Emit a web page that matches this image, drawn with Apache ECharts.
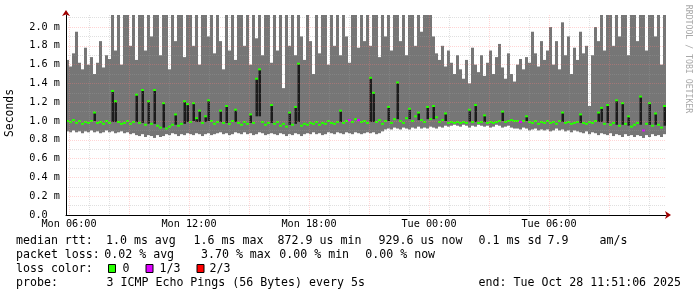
<!DOCTYPE html>
<html><head><meta charset="utf-8">
<script src="https://cdn.jsdelivr.net/npm/echarts@6/dist/echarts.min.js"></script>
<style>html,body{margin:0;padding:0;background:#fff;}#c{width:697px;height:297px;}</style>
</head><body><div id="c"></div>
<script>
// ---- time frame (hours since Mon 00:00) ----
const startHour = 5.85;   // Mon 05:51:06
const endHour = 35.85;    // Tue 11:51:06
const slotHours = 0.15;   // 9 minutes per slot

// ---- round trip times in ms, one value per slot ----
const rttMin = [
0.89,0.88,0.90,0.88,0.89,0.87,0.89,0.88,0.90,0.88,
0.89,0.87,0.88,0.90,0.88,0.89,0.87,0.88,0.89,0.87,
0.88,0.86,0.87,0.85,0.84,0.86,0.83,0.85,0.84,0.82,
0.85,0.83,0.84,0.86,0.85,0.87,0.86,0.84,0.86,0.85,
0.87,0.86,0.85,0.87,0.86,0.84,0.86,0.87,0.85,0.86,
0.87,0.88,0.86,0.87,0.85,0.86,0.88,0.87,0.86,0.88,
0.86,0.87,0.85,0.86,0.88,0.87,0.85,0.86,0.87,0.86,
0.85,0.87,0.86,0.84,0.86,0.85,0.87,0.86,0.84,0.86,
0.87,0.86,0.88,0.86,0.87,0.85,0.86,0.88,0.87,0.86,
0.88,0.87,0.86,0.88,0.87,0.86,0.88,0.87,0.86,0.87,
0.88,0.87,0.88,0.86,0.87,0.89,0.91,0.92,0.91,0.93,
0.92,0.91,0.93,0.92,0.91,0.93,0.92,0.94,0.92,0.93,
0.92,0.94,0.93,0.92,0.94,0.93,0.95,0.94,0.95,0.96,
0.95,0.94,0.96,0.95,0.93,0.95,0.94,0.96,0.95,0.94,
0.95,0.93,0.94,0.96,0.95,0.93,0.94,0.95,0.93,0.92,
0.92,0.91,0.93,0.92,0.90,0.91,0.92,0.90,0.91,0.90,
0.91,0.89,0.90,0.92,0.90,0.91,0.89,0.90,0.88,0.90,
0.89,0.88,0.87,0.89,0.86,0.88,0.87,0.85,0.87,0.86,
0.85,0.87,0.84,0.86,0.85,0.83,0.86,0.84,0.85,0.83,
0.85,0.84,0.82,0.85,0.83,0.86,0.84,0.85,0.83,0.86];

const rttMedian = [
1.00,0.99,1.01,0.98,1.00,0.97,0.99,0.98,1.00,1.09,
0.98,0.99,0.97,1.00,0.98,1.32,1.21,0.99,0.97,0.98,
1.00,0.97,0.99,1.28,0.98,1.33,0.96,1.21,0.97,1.33,
0.95,0.93,1.19,0.92,0.94,0.96,1.07,0.95,0.97,1.21,
1.18,0.99,1.19,1.03,1.11,0.98,1.05,1.22,1.00,0.97,
0.99,1.11,0.98,1.16,0.97,1.00,1.12,0.98,0.96,0.99,
0.97,1.07,0.98,1.45,1.55,0.99,0.96,0.98,1.17,0.97,
0.99,0.95,0.97,0.94,1.09,0.96,1.15,1.61,0.95,0.97,
0.96,0.98,0.97,0.99,0.96,0.98,0.97,1.00,0.98,0.97,
0.99,1.11,0.98,1.00,1.01,0.99,1.02,1.01,0.99,1.00,
0.98,1.46,1.30,0.99,1.01,0.97,1.00,1.15,0.98,1.02,
1.41,1.00,0.98,1.03,1.13,1.00,1.05,1.09,1.01,0.99,
1.15,1.02,1.16,1.04,0.99,1.01,1.08,0.98,0.99,0.98,
0.99,0.98,0.99,0.98,1.12,0.99,1.17,0.98,0.99,1.06,
0.98,0.99,0.98,0.99,1.00,1.10,0.99,1.00,1.01,1.00,
1.00,0.99,1.00,1.05,0.99,0.98,1.00,0.97,0.99,0.98,
1.00,0.98,0.99,0.97,1.00,1.09,0.98,0.99,0.97,0.98,
0.99,1.07,0.98,0.97,0.99,0.98,1.00,1.09,1.14,0.97,
1.17,0.96,0.98,1.22,0.95,1.19,0.97,1.05,0.94,0.96,
0.98,1.26,0.90,0.97,1.19,0.95,1.08,0.96,0.93,1.16];

const rttMax = [
1.65,1.58,1.72,1.95,1.62,1.55,1.78,1.60,1.68,1.50,
1.62,1.85,1.57,1.70,1.66,2.14,1.75,2.14,1.60,2.14,
2.14,1.80,2.14,1.65,2.14,2.14,1.75,2.14,1.90,2.14,
2.14,1.70,2.14,2.14,1.55,2.14,1.85,2.14,2.14,1.68,
2.14,2.14,1.80,2.14,1.60,2.14,2.14,1.90,2.14,1.72,
2.14,1.85,1.55,2.14,1.75,2.14,1.65,2.14,2.14,1.80,
2.14,1.60,2.14,1.88,2.14,1.70,2.14,2.14,1.62,2.14,
1.75,2.14,1.35,2.14,1.80,2.14,1.70,2.14,1.90,1.65,
2.14,1.85,1.50,2.14,1.72,2.14,2.14,1.60,2.14,1.80,
2.14,1.70,2.14,1.90,1.62,2.14,2.14,1.78,2.14,1.85,
2.14,1.80,2.14,2.14,1.68,2.14,1.90,2.14,1.75,2.14,
2.14,1.85,2.14,1.70,2.14,2.14,1.80,2.14,1.95,2.14,
2.14,2.14,1.90,1.72,1.65,1.80,1.58,1.75,1.62,1.50,
1.70,1.55,1.45,1.65,1.40,1.78,1.60,1.52,1.70,1.48,
1.62,1.75,1.50,1.68,1.82,1.57,1.45,1.72,1.50,1.42,
1.60,1.66,1.55,1.68,1.62,1.95,1.72,1.58,1.85,1.65,
1.75,2.00,1.60,1.85,1.55,2.05,1.70,1.90,1.50,1.78,
1.65,1.95,1.72,1.80,1.16,1.70,2.00,1.85,2.14,1.75,
2.14,2.14,1.80,2.14,1.90,2.14,2.14,1.70,2.14,2.14,
1.85,2.14,2.14,1.75,2.14,2.14,1.90,2.14,1.60,2.14];

// slots where the median jumps: dark bar from darkLow up to the median
const darkSlots = [9,15,16,23,25,27,29,32,36,39,40,42,43,44,46,47,51,53,56,61,63,64,68,74,76,77,91,
  101,102,107,110,114,117,120,122,126,134,136,139,145,153,165,171,177,178,180,183,185,187,191,194,196,199];
const darkLow = [1.00,0.99,0.99,0.99,0.98,0.97,0.97,0.93,0.96,0.97,0.99,1.00,0.99,0.99,0.99,1.00,0.99,0.98,0.99,0.98,1.05,1.05,0.98,0.96,0.97,0.99,0.99,
  0.99,0.99,1.00,1.02,1.02,1.01,1.02,1.02,1.00,0.99,0.99,0.99,1.00,1.00,0.99,0.98,0.99,0.99,0.98,0.96,0.96,0.95,0.96,0.96,0.96,0.95];
// slots with 1/3 packet loss
const lossSlots = [94, 97, 151, 192];

// ---- axes ----
const yMax = 2.128;
const yTickValues = [0,0.2,0.4,0.6,0.8,1.0,1.2,1.4,1.6,1.8,2.0];
const yTickLabels = ['0.0  ','0.2 m','0.4 m','0.6 m','0.8 m','1.0 m','1.2 m','1.4 m','1.6 m','1.8 m','2.0 m'];
const xTickHours = [6, 12, 18, 24, 30];
const xTickLabels = ['Mon 06:00','Mon 12:00','Mon 18:00','Tue 00:00','Tue 06:00'];

// ---- legend texts ----
const rttStats = ['median rtt:','1.0 ms avg','1.6 ms max','872.9 us min','929.6 us now','0.1 ms sd','7.9','am/s'];
const lossStats = ['packet loss:','0.02 % avg','3.70 % max','0.00 % min','0.00 % now'];
const lossLegend = ['loss color:','0','1/3','2/3'];
const probeText = ['probe:','3 ICMP Echo Pings (56 Bytes) every 5s','end: Tue Oct 28 11:51:06 2025'];
const yAxisTitle = 'Seconds';
const watermark = 'RRDTOOL / TOBI OETIKER';

// ---- styles ----
const FONT = '"DejaVu Sans Mono", monospace';
const smokeColor = '#767676';
const darkColor = '#1c1c1c';
const lossColors = ['#26ff00', '#dd00ff', '#ff0000'];
const majorGrid = 'rgba(255,120,120,0.32)';
const minorGrid = 'rgba(160,160,160,0.32)';

const darkFull = rttMin.map(() => null);
darkSlots.forEach((s, k) => { darkFull[s] = darkLow[k]; });
const table = rttMin.map((v, i) => [
  startHour + i * slotHours, v, rttMedian[i], darkFull[i], rttMax[i], lossSlots.indexOf(i) >= 0 ? 1 : 0
]);

function renderSlot(params, api) {
  const t = api.value(0);
  const lo = api.value(1), med = api.value(2), dlo = api.value(3);
  const hi = Math.min(api.value(4), yMax);
  const loss = api.value(5);
  const a = api.coord([t, hi]);
  const b = api.coord([t + slotHours, lo]);
  const x = a[0], w = b[0] - a[0];
  const kids = [{type: 'rect', shape: {x: x, y: a[1], width: w, height: b[1] - a[1]}, style: {fill: smokeColor}}];
  const m = api.coord([t, med]);
  if (dlo != null && !isNaN(dlo)) {
    const d = api.coord([t, dlo]);
    kids.push({type: 'rect', shape: {x: x + 0.5, y: m[1], width: w - 0.5, height: d[1] - m[1]}, style: {fill: darkColor}});
  }
  kids.push({type: 'rect', shape: {x: x, y: m[1] - 1, width: w, height: 2}, style: {fill: lossColors[loss ? 1 : 0]}});
  return {type: 'group', children: kids};
}

function txt(x, y, s, extra) {
  return {type: 'text', x: x, y: y, silent: true,
    style: Object.assign({text: s, font: '11.6px ' + FONT, fill: '#000',
      textAlign: 'left', textVerticalAlign: 'middle', align: 'left', verticalAlign: 'middle'}, (extra && extra.style) || {})};
}

const graphics = [];
const rttX = [16, 106, 193.6, 277.6, 378.6, 478.6, 547.6, 599.6];
rttStats.forEach((s, k) => graphics.push(txt(rttX[k], 241, s)));
const lossX = [16, 104.3, 201, 279.3, 365.3];
lossStats.forEach((s, k) => graphics.push(txt(lossX[k], 255, s)));
const legX = [16, 122.6, 159.6, 209.6];
lossLegend.forEach((s, k) => graphics.push(txt(legX[k], 269, s)));
const boxX = [108.5, 146, 197];
lossColors.forEach((c, k) => graphics.push({type: 'rect', silent: true,
  shape: {x: boxX[k], y: 264.5, width: 7, height: 8}, style: {fill: c, stroke: '#000', lineWidth: 1}}));
graphics.push(txt(16, 283, probeText[0]));
graphics.push(txt(106.6, 283, probeText[1]));
graphics.push(txt(681, 283, probeText[2], {style: {textAlign: 'right', align: 'right'}}));
graphics.push({type: 'text', x: 10, y: 113, rotation: Math.PI / 2, silent: true,
  style: {text: yAxisTitle, font: '11.4px ' + FONT, fill: '#000', textAlign: 'center', textVerticalAlign: 'middle', align: 'center', verticalAlign: 'middle'}});
graphics.push({type: 'text', x: 688, y: 59, rotation: -Math.PI / 2, silent: true,
  style: {text: watermark, font: '8.2px ' + FONT, fill: '#a8a8a8', textAlign: 'center', textVerticalAlign: 'middle', align: 'center', verticalAlign: 'middle'}});

const chart = echarts.init(document.getElementById('c'), null, {renderer: 'canvas'});
chart.setOption({
  animation: false,
  backgroundColor: '#fff',
  grid: {left: 66, right: 31, top: 15, bottom: 82, containLabel: false},
  xAxis: [{
    type: 'value', min: startHour, max: endHour, splitNumber: 30, position: 'bottom',
    axisLine: {show: true, onZero: false, lineStyle: {color: '#000', width: 1}},
    axisTick: {show: false},
    axisLabel: {
      margin: 4, color: '#000', fontFamily: FONT, fontSize: 10.2,
      showMinLabel: true, showMaxLabel: true,
      formatter: v => { const k = xTickHours.findIndex(h => Math.abs(h - v) < 1e-6); return k >= 0 ? xTickLabels[k] : ''; }
    },
    splitLine: {show: true, showMinLine: false, showMaxLine: false,
      lineStyle: {type: [1, 1], width: 1, color: [majorGrid, minorGrid, minorGrid]}}
  }, {
    type: 'value', min: startHour, max: endHour, position: 'bottom',
    axisLine: {show: true, onZero: false, symbol: ['none', 'arrow'], symbolSize: [6, 6], symbolOffset: [0, 5],
      lineStyle: {color: '#a00000', width: 0}},
    axisTick: {show: false}, axisLabel: {show: false}, splitLine: {show: false}
  }],
  yAxis: [{
    type: 'value', min: 0, max: yMax, interval: 0.1,
    axisLine: {show: true, onZero: false, lineStyle: {color: '#000', width: 1}},
    axisTick: {show: false},
    axisLabel: {
      margin: 6, color: '#000', fontFamily: FONT, fontSize: 10.2,
      formatter: v => { const k = yTickValues.findIndex(t => Math.abs(t - v) < 1e-6); return k >= 0 ? yTickLabels[k] : ''; }
    },
    splitLine: {show: true, showMinLine: false, showMaxLine: false,
      lineStyle: {type: [1, 1], width: 1, color: [minorGrid, majorGrid]}}
  }, {
    type: 'value', min: 0, max: yMax, position: 'left',
    axisLine: {show: true, onZero: false, symbol: ['none', 'arrow'], symbolSize: [6, 6], symbolOffset: [0, 5],
      lineStyle: {color: '#a00000', width: 0}},
    axisTick: {show: false}, axisLabel: {show: false}, splitLine: {show: false}
  }],
  series: [{
    type: 'custom', z: -1, renderItem: renderSlot, data: table,
    encode: {x: 0, y: 1}, silent: true
  }],
  graphic: {elements: graphics}
});
</script></body></html>
